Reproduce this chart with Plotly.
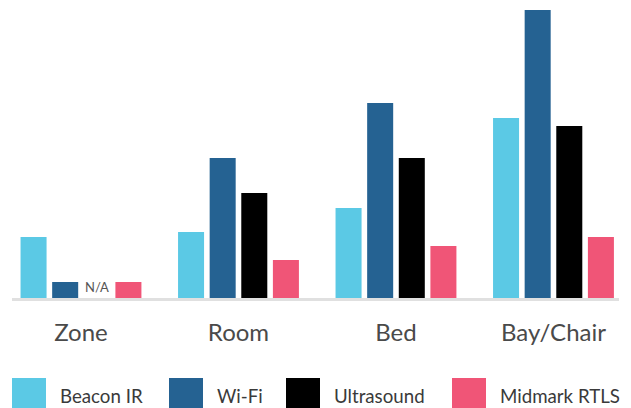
import plotly.graph_objects as go

categories = ["Zone", "Room", "Bed", "Bay/Chair"]
series_names = ["Beacon IR", "Wi-Fi", "Ultrasound", "Midmark RTLS"]
beacon_ir = [61, 66, 90, 180]
wifi = [16, 140, 195, 288]
ultrasound = [None, 105, 140, 172]
midmark = [16, 38, 52, 61]
colors = ["#5BC9E5", "#256292", "#000000", "#F05577"]
na_label = "N/A"

values = [beacon_ir, wifi, ultrasound, midmark]

# page has an 8px body margin: figure coords = reference coords - 8
OFF = 8
W, H = 631 - OFF, 408 - OFF
L, R, T, B = 12 - OFF, 12, 0, 110
PW, PH = W - L - R, H - T - B

def px(x):
    return (x - OFF - L) / PW

def py(y):
    return (T + PH - (y - OFF)) / PH

FONT = "Lato"

fig = go.Figure()
for name, vals, col in zip(series_names, values, colors):
    fig.add_trace(go.Bar(x=categories, y=vals, name=name, marker_color=col,
                         marker_line_width=0, showlegend=False))

# N/A marker for the missing Ultrasound value
for ci, v in enumerate(ultrasound):
    if v is None:
        fig.add_annotation(x=ci + 0.5 * 0.2, y=0, text=na_label, showarrow=False,
                           yanchor="bottom", yshift=1, xshift=0,
                           font=dict(family=FONT, size=13, color="#555555"))

# custom legend with large swatches
sw_x = [12, 169, 286, 452]
for name, col, x0 in zip(series_names, colors, sw_x):
    fig.add_shape(type="rect", xref="paper", yref="paper",
                  x0=px(x0), x1=px(x0 + 34), y0=py(378), y1=py(409),
                  fillcolor=col, line_width=0)
    fig.add_annotation(xref="paper", yref="paper", x=px(x0 + 46), y=py(396),
                       text=name, showarrow=False, xanchor="left", yanchor="middle",
                       font=dict(family=FONT, size=18.7, color="#3A3A3A"))

fig.update_layout(
    width=W, height=H,
    margin=dict(l=L, r=R, t=T, b=B, pad=0),
    barmode="group", bargap=0.197, bargroupgap=0.177,
    plot_bgcolor="white", paper_bgcolor="white",
    xaxis=dict(range=[-0.438, 3.416], showline=True, linecolor="#E0E0E0", linewidth=3,
               showgrid=False, zeroline=False, ticks="", ticklabelstandoff=11,
               tickfont=dict(family=FONT, size=24, color="#4A4A4A")),
    yaxis=dict(range=[0, 290], visible=False, showgrid=False, zeroline=False),
)

fig.write_html("out.html")
